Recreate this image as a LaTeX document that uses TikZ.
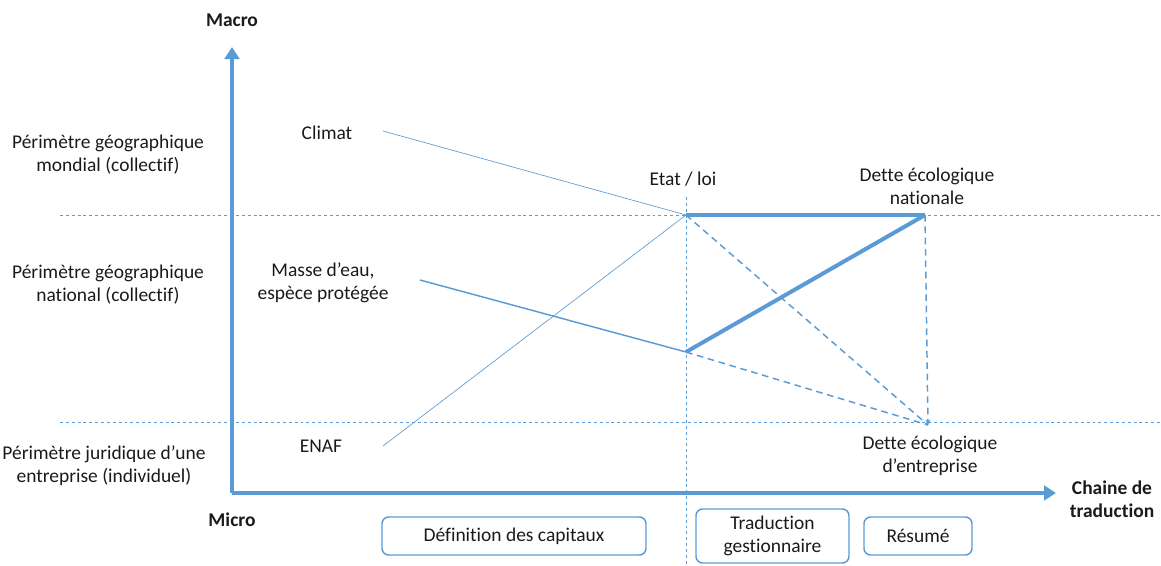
\documentclass[tikz,border=0pt]{standalone}
\usepackage{fontspec}
\setmainfont{Carlito}[Ligatures={NoCommon}]
\usetikzlibrary{arrows.meta}
\definecolor{axblue}{HTML}{5B9BD5}
\definecolor{txt}{HTML}{1A1A1A}
\begin{document}
\begin{tikzpicture}[x=0.75pt,y=-0.75pt,
  lbl/.style={text=txt,font=\fontsize{14.6}{17.25}\selectfont,align=center,inner sep=0pt},
  blbl/.style={lbl,font=\fontsize{14.6}{17.25}\selectfont\bfseries},
  axis/.style={axblue,line width=3pt,-{Triangle[length=9pt,width=11pt]}},
  guide/.style={axblue,line width=0.6pt,dash pattern=on 2.2pt off 2.2pt},
  thinline/.style={axblue,line width=0.5pt},
  midline/.style={axblue,line width=1.1pt},
  thickline/.style={axblue,line width=3pt},
  dashline/.style={axblue,line width=1.1pt,dash pattern=on 5pt off 3.5pt},
  phase/.style={draw=axblue,line width=1.1pt,rounded corners=5pt,text=txt,font=\fontsize{14.6}{17.25}\selectfont,align=center,inner sep=0pt}]
\useasboundingbox (0,0) rectangle (1161,565);
% coordinates
\coordinate (O) at (232,493);
\coordinate (Ytop) at (232,47);
\coordinate (Xend) at (1056,493);
\coordinate (gA) at (60,215);
\coordinate (gAe) at (1161,215);
\coordinate (gB) at (60,422);
\coordinate (gBe) at (1161,422);
\coordinate (vT) at (686,197);
\coordinate (vB) at (686,565);
\coordinate (E) at (686,215);
\coordinate (M) at (686,352);
\coordinate (N) at (925,215);
\coordinate (D) at (928,425);
\coordinate (cS) at (383,131);
\coordinate (mS) at (420,280);
\coordinate (eS) at (383,446);
% guides
\draw[guide] (gA) -- (gAe);
\draw[guide] (gB) -- (gBe);
\draw[guide] (vT) -- (vB);
% axes
\draw[axis] (O) -- (Ytop);
\draw[axis] (O) -- (Xend);
% labels
\node[blbl] (macro) at (232,20) {Macro};
\node[blbl] (micro) at (232,520) {Micro};
\node[blbl] (chaine) at (1112,499) {Chaine de\\traduction};
\node[lbl] (pm) at (108,155) {Périmètre géographique\\mondial (collectif)};
\node[lbl] (pn) at (108,285) {Périmètre géographique\\national (collectif)};
\node[lbl] (pj) at (104,466) {Périmètre juridique d’une\\entreprise (individuel)};
\node[lbl] (climat) at (327,133) {Climat};
\node[lbl] (masse) at (323,283) {Masse d’eau,\\espèce protégée};
\node[lbl] (enaf) at (321,446) {ENAF};
\node[lbl] (etat) at (683,179) {Etat / loi};
\node[lbl] (dn) at (927,186) {Dette écologique\\nationale};
\node[lbl] (de) at (930,456) {Dette écologique\\d’entreprise};
% connectors
\draw[thinline] (cS) -- (E);
\draw[thinline] (eS) -- (E);
\draw[midline] (mS) -- (M);
\draw[thickline] (E) -- (N);
\draw[thickline] (M) -- (N);
\draw[dashline] (E) -- (D);
\draw[dashline] (M) -- (D);
\draw[dashline,-{Stealth[length=4pt,width=4pt]}] (N) -- (D);
% phases
\node[phase,minimum width=264*0.75pt,minimum height=38*0.75pt] (p1) at (514,536) {Définition des capitaux};
\node[phase,minimum width=153*0.75pt,minimum height=54*0.75pt] (p2) at (772.5,536) {Traduction\\gestionnaire};
\node[phase,minimum width=108*0.75pt,minimum height=38*0.75pt] (p3) at (918,536) {Résumé};
\end{tikzpicture}
\end{document}
